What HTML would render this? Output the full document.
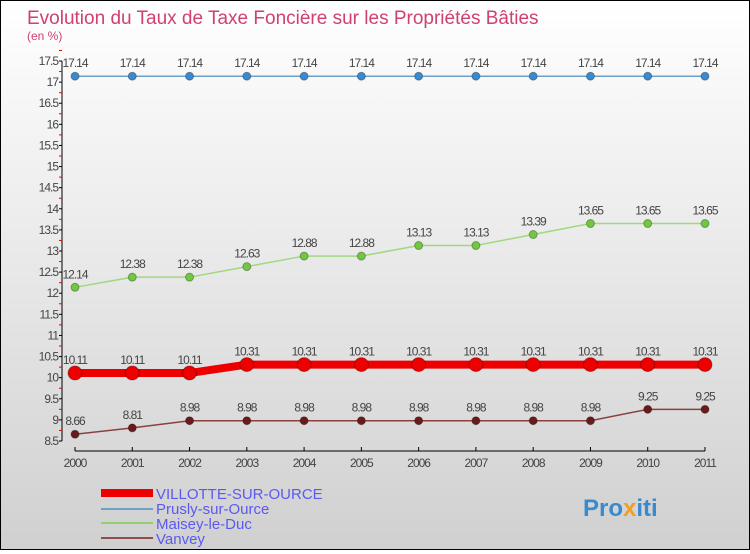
<!DOCTYPE html>
<html><head><meta charset="utf-8">
<style>
body{margin:0;width:750px;height:550px;overflow:hidden;font-family:"Liberation Sans",sans-serif;}
#wrap{position:relative;width:748px;height:548px;border:1px solid #000;background:linear-gradient(#ffffff,#d0d0d0);}
</style></head><body>
<div id="wrap">
<svg id="chart" width="748" height="548">
<text x="26" y="23" font-size="19" fill="#d04070">Evolution du Taux de Taxe Foncière sur les Propriétés Bâties</text>
<text x="26" y="39" font-size="12" fill="#d04070">(en %)</text>
<g id="axes"></g><g id="series"></g>
<g>
<rect x="100" y="488" width="52" height="8" fill="#e00"/>
<text x="155" y="498" font-size="15" fill="#5a5af0">VILLOTTE-SUR-OURCE</text>
<rect x="100" y="507" width="52" height="2" fill="#6fa0c8"/>
<text x="155" y="513" font-size="15" fill="#5a5af0">Prusly-sur-Ource</text>
<rect x="100" y="521" width="52" height="2" fill="#90d070"/>
<text x="155" y="528" font-size="15" fill="#5a5af0">Maisey-le-Duc</text>
<rect x="100" y="536" width="52" height="2" fill="#8a5050"/>
<text x="155" y="543" font-size="15" fill="#5a5af0">Vanvey</text>
</g>
<g><text x="582" y="515" font-size="24" font-weight="bold" fill="#3a8ad0">Pro<tspan fill="#f0a020">x</tspan>iti</text></g>
</svg></div>
<script>
const years=["2000","2001","2002","2003","2004","2005","2006","2007","2008","2009","2010","2011"];
const villotte=[10.11,10.11,10.11,10.31,10.31,10.31,10.31,10.31,10.31,10.31,10.31,10.31];
const prusly=[17.14,17.14,17.14,17.14,17.14,17.14,17.14,17.14,17.14,17.14,17.14,17.14];
const maisey=[12.14,12.38,12.38,12.63,12.88,12.88,13.13,13.13,13.39,13.65,13.65,13.65];
const vanvey=[8.66,8.81,8.98,8.98,8.98,8.98,8.98,8.98,8.98,8.98,9.25,9.25];
const yTicks=[8.5,9,9.5,10,10.5,11,11.5,12,12.5,13,13.5,14,14.5,15,15.5,16,16.5,17,17.5];
const NS="http://www.w3.org/2000/svg";
function xs(i){return 74+i*(630/(years.length-1));}
function ys(v){return 440-(v-8.5)*(380/9);}
function mk(t,a,p){const e=document.createElementNS(NS,t);for(const k in a)e.setAttribute(k,a[k]);p.appendChild(e);return e;}
const ax=document.getElementById('axes');
let l=mk('line',{x1:61,y1:ys(17.5),x2:61,y2:ys(8.5),stroke:'#000'},ax);


yTicks.forEach(v=>{
 mk('line',{x1:58,x2:61,y1:ys(v),y2:ys(v),stroke:'#000'},ax);
 mk('line',{x1:58,x2:61,y1:ys(v+0.25),y2:ys(v+0.25),stroke:'#e00'},ax);
 const t=mk('text',{x:57,y:ys(v)+4,'font-size':12,'text-anchor':'end',fill:'#444','letter-spacing':'-1'},ax);
 t.textContent=String(v);
 
 
});
l=mk('line',{x1:xs(0),x2:xs(years.length-1),y1:450,y2:450,stroke:'#000'},ax);


years.forEach((y,i)=>{
 mk('line',{x1:xs(i),x2:xs(i),y1:446,y2:450,stroke:'#000'},ax);
 const t=mk('text',{x:xs(i),y:466,'font-size':12,'text-anchor':'middle',fill:'#444','letter-spacing':'-1'},ax);
 t.textContent=y;
 
 
});
const sg=document.getElementById('series');
function series(d,name,col,dot,w,r){
 const g=mk('g',{},sg);
 
 
 mk('polyline',{points:d.map((v,i)=>xs(i)+','+ys(v)).join(' '),fill:'none',stroke:col,'stroke-width':w},g);
 d.forEach((v,i)=>{
  const c=mk('circle',{cx:xs(i),cy:ys(v),r:r,fill:dot,stroke:'rgba(0,0,0,0.3)'},g);
  
  
  const t=mk('text',{x:xs(i),y:ys(v)-9,'font-size':12,'text-anchor':'middle',fill:'#444','letter-spacing':'-1'},g);
  t.textContent=String(v);
  
  
 });
}
series(prusly,'prusly','#6fa0c8','#3a8ad0',1.5,4);
series(maisey,'maisey','#a0d880','#70c840',1.5,4);
series(vanvey,'vanvey','#8a4040','#6a1a1a',1.5,4);
series(villotte,'villotte','#e00','#e00',8,7);
</script>
</body></html>
